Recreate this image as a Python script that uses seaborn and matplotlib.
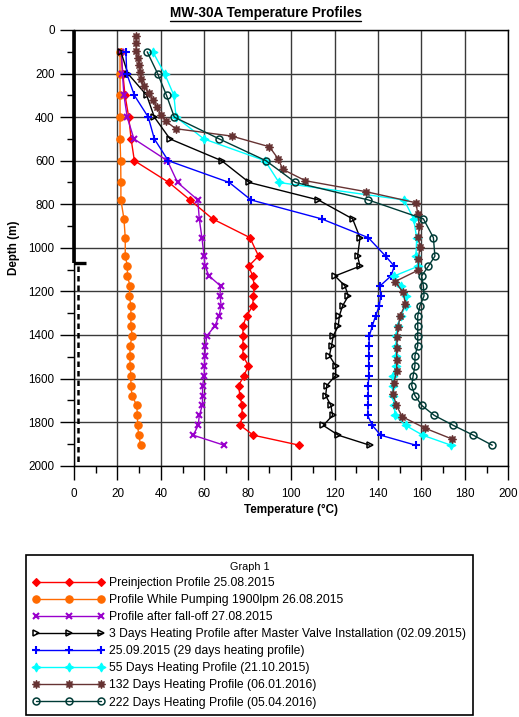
import numpy as np
import pandas as pd
import matplotlib
matplotlib.use("Agg")
import matplotlib.pyplot as plt
from matplotlib.lines import Line2D
from matplotlib.ticker import MultipleLocator
import seaborn as sns

# Survey depths (m) shared by most runs
depth = [100, 200, 300, 400, 500, 600, 700, 780, 867, 953,
         1038, 1084, 1129, 1175, 1221, 1266, 1312, 1358, 1404, 1449,
         1495, 1541, 1586, 1632, 1678, 1723, 1769, 1815, 1860, 1906]

# Temperatures (degC) per survey
preinjection = [21.6, 22.5, 23.5, 25.2, 26.3, 27.8, 43.7, 53.4, 63.8, 81.0,
                85.0, 80.4, 82.3, 83.0, 82.6, 82.3, 79.5, 77.8, 77.8, 77.8,
                77.8, 80.3, 78.3, 75.8, 76.4, 77.4, 77.4, 76.6, 82.6, 103.8]
pumping = [21.2, 21.2, 21.2, 21.2, 21.2, 21.5, 21.6, 21.6, 23.0, 23.6,
           23.6, 24.6, 24.6, 25.8, 25.5, 26.2, 26.2, 26.2, 26.8, 25.8,
           25.8, 25.8, 26.2, 26.2, 26.7, 28.9, 29.2, 29.3, 29.8, 30.7]
falloff = [21.8, 22.3, 23.0, 24.5, 27.6, 43.0, 47.7, 57.0, 57.7, 58.9,
           59.9, 60.3, 62.2, 67.5, 67.2, 67.8, 66.8, 64.9, 61.2, 60.5,
           60.3, 60.0, 60.0, 59.2, 59.2, 59.1, 57.7, 57.2, 54.9, 69.1]
heat_3d = [21.6, 24.8, 33.5, 37.0, 44.2, 68.0, 80.7, 112.5, 128.3, 131.7,
           130.6, 131.7, 120.2, 124.8, 126.3, 123.7, 122.2, 121.7, 119.4, 118.6,
           117.6, 120.5, 120.5, 116.4, 115.9, 118.3, 119.1, 114.8, 121.7, 136.2]
heat_29d = [23.9, 24.3, 27.8, 34.2, 37.0, 43.4, 71.5, 81.5, 114.0, 135.5,
            143.5, 147.5, 146.0, 140.9, 141.2, 140.6, 138.9, 137.4, 136.0, 135.8,
            135.7, 135.7, 135.7, 135.5, 135.5, 135.5, 135.2, 137.4, 141.2, 157.4]
heat_55d = [36.3, 41.7, 46.0, 47.0, 59.8, 88.0, 94.4, 152.0, 156.4, 157.8,
            157.5, 158.6, 147.5, 150.6, 152.7, 152.7, 150.6, 149.0, 148.3, 148.3,
            148.3, 148.3, 146.7, 146.7, 146.7, 147.5, 147.8, 152.7, 160.6, 173.6]
heat_222d = [33.7, 38.5, 42.6, 46.2, 66.9, 88.4, 102.0, 135.5, 160.9, 165.5,
             166.2, 163.2, 160.1, 160.9, 161.2, 159.3, 158.3, 158.3, 158.3, 158.3,
             157.0, 157.0, 156.2, 155.5, 157.0, 160.1, 165.9, 174.7, 183.9, 192.6]

# The 132-day survey was logged on its own depth stations
depth_132d = [28, 61, 95, 128, 160, 193, 225, 258, 290, 323,
              355, 388, 420, 453, 487, 536, 590, 640, 692, 742,
              793, 845, 900, 952, 995, 1053, 1102, 1155, 1204, 1258,
              1312, 1362, 1411, 1462, 1515, 1567, 1620, 1671, 1723, 1775,
              1828, 1878]
heat_132d = [28.6, 28.6, 28.6, 29.3, 30.0, 30.4, 30.9, 32.2, 34.5, 36.5,
             38.2, 40.0, 42.5, 46.8, 72.6, 90.0, 93.9, 96.2, 106.6, 134.4,
             157.5, 158.3, 159.0, 158.6, 159.3, 158.6, 158.6, 147.8, 151.6, 152.6,
             150.2, 149.3, 148.8, 148.6, 148.6, 148.6, 147.2, 146.9, 148.5, 151.1,
             161.7, 174.2]

labels = [
    "Preinjection Profile 25.08.2015",
    "Profile While Pumping 1900lpm 26.08.2015",
    "Profile after fall-off 27.08.2015",
    "3 Days Heating Profile after Master Valve Installation (02.09.2015)",
    "25.09.2015 (29 days heating profile)",
    "55 Days Heating Profile (21.10.2015)",
    "132 Days Heating Profile (06.01.2016)",
    "222 Days Heating Profile (05.04.2016)",
]

# Well completion: casing shoe and slotted liner interval (m)
casing_shoe = 1070
liner_top, liner_bottom = 1085, 1990

sns.set_theme(style="ticks")
plt.rcParams["font.family"] = ["Liberation Sans", "DejaVu Sans"]
plt.rcParams["text.color"] = "black"
plt.rcParams["axes.labelcolor"] = "black"

fig = plt.figure(figsize=(5.19, 7.17), dpi=100)
ax = fig.add_axes([74 / 519, 1 - 465.7 / 717, 434.3 / 519, 435.7 / 717])

styles = [
    dict(color="#FF0000", marker="D", markersize=3.8, markerfacecolor="#FF0000", markeredgecolor="#FF0000", markeredgewidth=0.8),
    dict(color="#FF6A00", marker="o", markersize=5.3, markerfacecolor="#FF6A00", markeredgecolor="#FF6A00", markeredgewidth=0.8),
    dict(color="#9900CC", marker="x", markersize=4.8, markerfacecolor="#9900CC", markeredgecolor="#9900CC", markeredgewidth=1.5),
    dict(color="black", marker=">", markersize=5.0, markerfacecolor="none", markeredgecolor="black", markeredgewidth=1.1),
    dict(color="#0000FF", marker="+", markersize=6.0, markerfacecolor="#0000FF", markeredgecolor="#0000FF", markeredgewidth=1.5),
    dict(color="#00FFFF", marker=(4, 1, 0), markersize=6.5, markerfacecolor="#00FFFF", markeredgecolor="#00FFFF", markeredgewidth=0.8),
    dict(color="#663333", marker=(8, 1, 0), markersize=6.0, markerfacecolor="#663333", markeredgecolor="#663333", markeredgewidth=0.8),
    dict(color="#003B36", marker="o", markersize=5.0, markerfacecolor="none", markeredgecolor="#003B36", markeredgewidth=1.1),
]

profiles = [
    (preinjection, depth), (pumping, depth), (falloff, depth), (heat_3d, depth),
    (heat_29d, depth), (heat_55d, depth), (heat_132d, depth_132d), (heat_222d, depth),
]

for (temps, depths), label, st in zip(profiles, labels, styles):
    df = pd.DataFrame({"Temperature": temps, "Depth": depths})
    sns.lineplot(data=df, x="Temperature", y="Depth", orient="y", sort=False,
                 estimator=None, errorbar=None, ax=ax, label=label,
                 linewidth=1.0, zorder=3, **st)

# Casing, shoe and liner schematic along the depth axis
ax.plot([0, 0], [0, casing_shoe], color="black", lw=2.6, clip_on=False, zorder=5, solid_capstyle="butt")
ax.plot([0, 5.5], [casing_shoe, casing_shoe], color="black", lw=2.4, clip_on=False, zorder=5, solid_capstyle="butt")
ax.plot([2, 2], [liner_top, liner_bottom], color="black", lw=1.8, ls=(0, (2.2, 1.6)), zorder=5)

ax.set_xlim(0, 200)
ax.set_ylim(2000, 0)
ax.xaxis.set_major_locator(MultipleLocator(20))
ax.xaxis.set_minor_locator(MultipleLocator(10))
ax.yaxis.set_major_locator(MultipleLocator(200))
ax.yaxis.set_minor_locator(MultipleLocator(100))

ax.grid(True, which="major", color="#3a3a3a", lw=1.0)
ax.set_axisbelow(True)
for s in ax.spines.values():
    s.set_color("black")
    s.set_linewidth(1.0)
ax.tick_params(which="major", direction="out", length=10, width=1, color="black",
               labelsize=8.4, labelcolor="black", left=True, bottom=True, pad=4)
ax.tick_params(axis="x", which="major", pad=6)
ax.tick_params(which="minor", direction="out", length=5, width=1, color="black",
               left=True, bottom=True)

ax.set_xlabel("Temperature (°C)", fontsize=8.4, fontweight="bold", labelpad=3)
ax.set_ylabel("Depth (m)", fontsize=8.4, fontweight="bold", labelpad=6)

handles, lbls = ax.get_legend_handles_labels()
ax.get_legend().remove()
leg = fig.legend(handles, lbls, loc="upper left", bbox_to_anchor=(26 / 519, 1 - 555 / 717),
                 title="Graph 1", title_fontsize=7.8, fontsize=8.75, numpoints=3,
                 handlelength=5.9, handletextpad=0.4, labelspacing=0.42, borderpad=0.55,
                 frameon=True, fancybox=False, edgecolor="black", framealpha=1,
                 borderaxespad=0)
leg.get_frame().set_linewidth(1.2)

title = fig.text(265.5 / 519, 1 - 13 / 717, "MW-30A Temperature Profiles",
                 ha="center", va="center", fontsize=9.8, fontweight="bold")
fig.canvas.draw()
bb = title.get_window_extent().transformed(fig.transFigure.inverted())
fig.add_artist(Line2D([bb.x0, bb.x1], [bb.y0 - 0.002, bb.y0 - 0.002],
                      transform=fig.transFigure, color="black", lw=1.0))

fig.savefig("out.png", dpi=100)
